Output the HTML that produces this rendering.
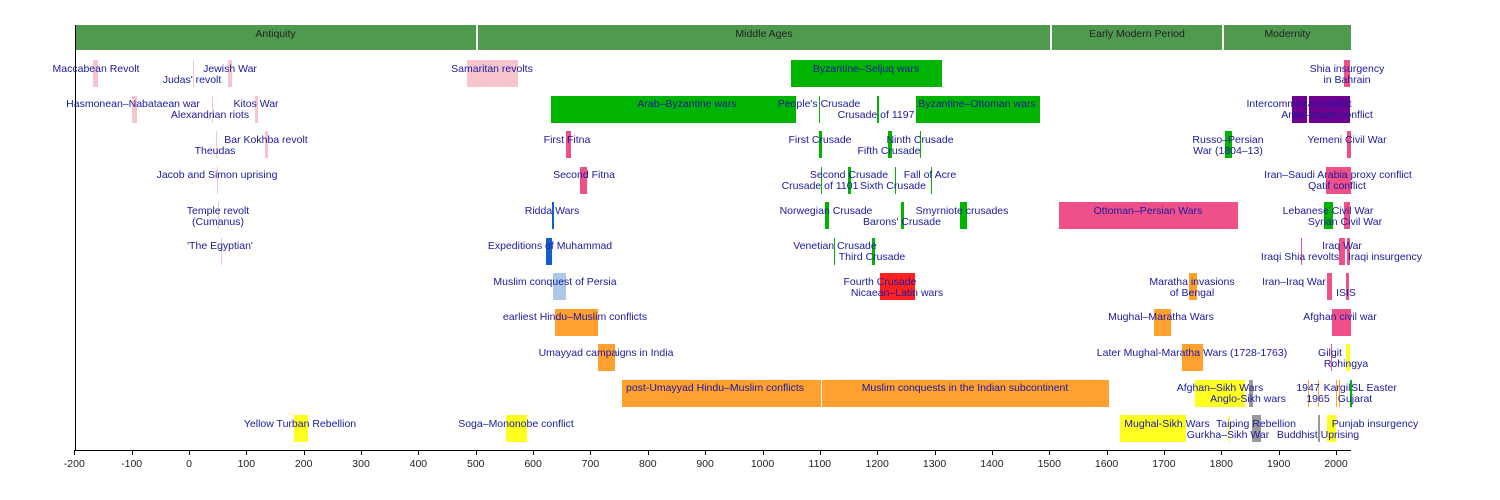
<!DOCTYPE html>
<html><head><meta charset="utf-8"><style>
body{margin:0;width:1500px;height:500px;background:#fff;position:relative;overflow:hidden;font-family:"Liberation Sans",sans-serif}
.b{position:absolute;height:27px}
.l{position:absolute;font-size:10.5px;color:#1a1aa0;white-space:nowrap;transform:translate(-50%,-50%);line-height:1}
.e{position:absolute;top:25px;height:25px;background:#4f9a4f;color:#222;font-size:10.5px;text-align:center;line-height:18px}
.t{position:absolute;top:458px;font-size:10.5px;color:#222;transform:translateX(-50%)}
.k{position:absolute;top:450px;width:1px;height:5px;background:#000}
</style></head><body>
<div class="e" style="left:75px;width:401px">Antiquity</div>
<div class="e" style="left:478px;width:572px">Middle Ages</div>
<div class="e" style="left:1052px;width:170px">Early Modern Period</div>
<div class="e" style="left:1224px;width:127px">Modernity</div>
<div style="position:absolute;left:75px;top:25px;width:1px;height:426px;background:#000"></div>
<div style="position:absolute;left:75px;top:450px;width:1276px;height:1px;background:#000"></div>
<div id="c"></div>
<script>
var P='#f7c6cc',PK='#f0508a',G='#00b400',BL='#1060c8',LB='#aec8e8',O='#ffa030',Y='#ffff20',GR='#999',PU='#700090',R='#ff2020';
var bars=[
[0,93,98,P],[0,228,232,P],[0,193,194,P],[0,467,518,P],[0,791,942,G],[0,1344,1350,PK],
[1,132,137,P],[1,212,213,P],[1,255,258,P],[1,551,796,G],[1,819,820,G],[1,877,879,G],[1,916,1040,G],[1,1292,1307,PU],[1,1309,1350,PU],
[2,265,268,P],[2,216,217,P],[2,566,571,PK],[2,819,822,G],[2,920,921,G],[2,888,892,G],[2,1225,1232,G],[2,1347,1351,PK],
[3,217,218,P],[3,580,587,PK],[3,848,851,G],[3,821,822,G],[3,895,896,G],[3,931,932,G],[3,1326,1351,PK],
[4,218,219,P],[4,552,554,BL],[4,825,829,G],[4,901,904,G],[4,960,967,G],[4,1059,1238,PK],[4,1324,1333,G],[4,1344,1350,PK],
[5,221,222,P],[5,546,552,BL],[5,834,835,G],[5,872,875,G],[5,1339,1345,PK],[5,1301,1302,PK],[5,1347,1350,PK],
[6,553,566,LB],[6,880,915,R],[6,1189,1197,O],[6,1327,1332,PK],[6,1346,1349,PK],
[7,555,598,O],[7,1154,1171,O],[7,1332,1351,PK],
[8,598,615,O],[8,1182,1203,O],[8,1331,1332,PK],[8,1346,1350,Y],
[9,622,821,O],[9,822,1109,O],[9,1195,1245,Y],[9,1249,1253,GR],[9,1308,1309,O],[9,1318,1319,O],[9,1336,1337,O],[9,1339,1340,O],[9,1350,1352,G],
[10,294,308,Y],[10,506,527,Y],[10,1120,1186,Y],[10,1252,1261,GR],[10,1229,1230,Y],[10,1318,1320,GR],[10,1327,1336,Y]];
var labs=[
[0,0,96,"Maccabean Revolt"],[0,0,230,"Jewish War"],[0,1,192,"Judas' revolt"],[0,0,492,"Samaritan revolts"],[0,0,866,"Byzantine–Seljuq wars"],[0,0,1347,"Shia insurgency"],[0,1,1347,"in Bahrain"],
[1,0,133,"Hasmonean–Nabataean war"],[1,1,210,"Alexandrian riots"],[1,0,256,"Kitos War"],[1,0,687,"Arab–Byzantine wars"],[1,0,819,"People's Crusade"],[1,1,876,"Crusade of 1197"],[1,0,977,"Byzantine–Ottoman wars"],[1,0,1299,"Intercommunal conflict"],[1,1,1327,"Arab–Israeli conflict"],
[2,0,266,"Bar Kokhba revolt"],[2,1,215,"Theudas"],[2,0,567,"First Fitna"],[2,0,820,"First Crusade"],[2,0,920,"Ninth Crusade"],[2,1,889,"Fifth Crusade"],[2,0,1228,"Russo–Persian"],[2,1,1228,"War (1804–13)"],[2,0,1347,"Yemeni Civil War"],
[3,0,217,"Jacob and Simon uprising"],[3,0,584,"Second Fitna"],[3,0,849,"Second Crusade"],[3,1,820,"Crusade of 1101"],[3,1,893,"Sixth Crusade"],[3,0,930,"Fall of Acre"],[3,0,1338,"Iran–Saudi Arabia proxy conflict"],[3,1,1337,"Qatif conflict"],
[4,0,218,"Temple revolt"],[4,1,218,"(Cumanus)"],[4,0,552,"Ridda Wars"],[4,0,826,"Norwegian Crusade"],[4,1,902,"Barons' Crusade"],[4,0,962,"Smyrniote crusades"],[4,0,1148,"Ottoman–Persian Wars"],[4,0,1328,"Lebanese Civil War"],[4,1,1345,"Syrian Civil War"],
[5,0,220,"'The Egyptian'"],[5,0,550,"Expeditions of Muhammad"],[5,0,835,"Venetian Crusade"],[5,1,872,"Third Crusade"],[5,0,1342,"Iraq War"],[5,1,1300,"Iraqi Shia revolts"],[5,1,1385,"Iraqi insurgency"],
[6,0,555,"Muslim conquest of Persia"],[6,0,880,"Fourth Crusade"],[6,1,897,"Nicaean–Latin wars"],[6,0,1192,"Maratha invasions"],[6,1,1192,"of Bengal"],[6,0,1294,"Iran–Iraq War"],[6,1,1346,"ISIS"],
[7,0,575,"earliest Hindu–Muslim conflicts"],[7,0,1161,"Mughal–Maratha Wars"],[7,0,1340,"Afghan civil war"],
[8,0,606,"Umayyad campaigns in India"],[8,0,1192,"Later Mughal-Maratha Wars (1728-1763)"],[8,0,1330,"Gilgit"],[8,1,1346,"Rohingya"],
[9,0,715,"post-Umayyad Hindu–Muslim conflicts"],[9,0,965,"Muslim conquests in the Indian subcontinent"],[9,0,1220,"Afghan–Sikh Wars"],[9,1,1248,"Anglo-Sikh wars"],[9,0,1308,"1947"],[9,1,1318,"1965"],[9,0,1337,"Kargil"],[9,0,1374,"SL Easter"],[9,1,1355,"Gujarat"],
[10,0,300,"Yellow Turban Rebellion"],[10,0,516,"Soga–Mononobe conflict"],[10,0,1167,"Mughal-Sikh Wars"],[10,0,1256,"Taiping Rebellion"],[10,1,1228,"Gurkha–Sikh War"],[10,1,1318,"Buddhist Uprising"],[10,0,1375,"Punjab insurgency"]];
var h='';
function rowTop(r){return 60+r*35.5;}
bars.forEach(function(b){h+='<div class="b" style="left:'+b[1]+'px;width:'+Math.max(1,b[2]-b[1])+'px;top:'+rowTop(b[0])+'px;background:'+b[3]+'"></div>';});
labs.forEach(function(l){h+='<div class="l" style="left:'+l[2]+'px;top:'+(rowTop(l[0])+(l[1]?19.5:8.5))+'px">'+l[3]+'</div>';});
for(var y=-200;y<=2000;y+=100){var x=189+y*0.5735;h+='<div class="k" style="left:'+x+'px"></div><div class="t" style="left:'+x+'px">'+y+'</div>';}
document.getElementById('c').innerHTML=h;
</script>
</body></html>
